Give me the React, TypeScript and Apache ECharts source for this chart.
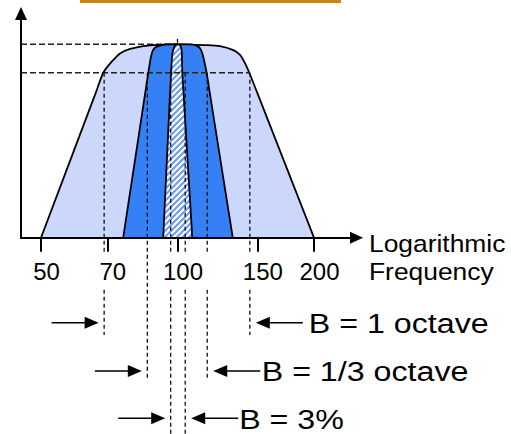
import React, { useEffect, useRef } from 'react';
import * as echarts from 'echarts';

// ---------- data ----------
const tickValues = [50, 70, 100, 150, 200];

// 1-octave filter shape (frequency, relative amplitude)
const octaveFreq = [50, 66.05, 68.6, 71.6, 74.7, 78.6, 84.1, 88.4, 100, 115, 124.1, 132.8, 137.4, 140.9, 144.0, 149.9, 200];
const octaveAmp = [0, 0.75, 0.853, 0.91, 0.953, 0.976, 0.991, 0.996, 1.0, 0.996, 0.991, 0.97, 0.945, 0.902, 0.853, 0.75, 0];

// 1/3-octave filter shape
const thirdFreq = [75.9, 84.9, 86.2, 87.4, 88.3, 90.0, 93.9, 100, 106.6, 111.2, 113.1, 114.4, 116.0, 117.8, 132.4];
const thirdAmp = [0, 0.75, 0.85, 0.936, 0.97, 0.988, 0.999, 1.0, 1.0, 0.988, 0.962, 0.919, 0.85, 0.75, 0];

// 3 % filter shape
const pctFreq = [93.0, 96.3, 96.8, 97.3, 98.0, 99.0, 100, 101.0, 101.8, 102.2, 102.5, 103.1, 107.8];
const pctAmp = [0, 0.75, 0.85, 0.94, 0.976, 0.995, 1.0, 0.998, 0.986, 0.96, 0.85, 0.75, 0];

// band edges (frequency) marked by dashed lines
const octaveEdges = [68.9, 144.4];
const thirdEdges = [85.8, 116.3];
const pctEdges = [96.6, 104.0];

const bandLabels = ['B = 1 octave', 'B = 1/3 octave', 'B = 3%'];
const peakFreq = 100;
const peakLevel = 1.0;
const halfPowerLevel = 0.853;
const axisTitleLines = ['Logarithmic', 'Frequency'];

// ---------- layout ----------
const W = 511;
const H = 434;
const FONT = '"Liberation Sans", Arial, Helvetica, sans-serif';
const X_MIN = 45.17;
const X_MAX = 248.2;
const Y_MAX = 1.1593;
const ROW_OFFSETS = [85, 133.3, 180.6];
const LINE_ENDS = [97.3, 142.3, 400];
const TEXT_OFFSETS = [59, 54.5, 54];

const zip = (a: number[], b: number[]) => a.map((v, i) => [v, b[i]]);

export default function App() {
  const ref = useRef<HTMLDivElement>(null);

  useEffect(() => {
    if (!ref.current) return;
    const chart = echarts.init(ref.current, undefined, { renderer: 'svg' });

    // hatch pattern
    const c = document.createElement('canvas');
    c.width = 6;
    c.height = 6;
    const ctx = c.getContext('2d');
    if (ctx) {
      ctx.fillStyle = '#ffffff';
      ctx.fillRect(0, 0, 6, 6);
      ctx.strokeStyle = '#6e9ff0';
      ctx.lineWidth = 2.2;
      ctx.beginPath();
      ctx.moveTo(0, 6);
      ctx.lineTo(6, 0);
      ctx.moveTo(-3, 3);
      ctx.lineTo(3, -3);
      ctx.moveTo(3, 9);
      ctx.lineTo(9, 3);
      ctx.stroke();
    }

    const dashV = { stroke: '#111', lineWidth: 1.3, lineDash: [4, 3] };
    const dashH = { stroke: '#222', lineWidth: 1.5, lineDash: [6, 3] };

    const bandData = [
      [octaveEdges[0], octaveEdges[1], 0],
      [thirdEdges[0], thirdEdges[1], 1],
      [pctEdges[0], pctEdges[1], 2],
    ];

    const renderBand = (params: any, api: any) => {
      const lo = api.value(0);
      const hi = api.value(1);
      const row = api.value(2);
      const pl = api.coord([lo, halfPowerLevel]);
      const pr = api.coord([hi, halfPowerLevel]);
      const xl = pl[0];
      const xr = pr[0];
      const yTop = pl[1];
      const axisY = api.coord([lo, 0])[1];
      const rowY = axisY + ROW_OFFSETS[row];
      const lineEnd = Math.min(H, axisY + LINE_ENDS[row]);
      const children: any[] = [];
      const seg = (x: number, y1: number, y2: number) => ({
        type: 'line',
        shape: { x1: x, y1, x2: x, y2 },
        style: dashV,
      });
      [xl, xr].forEach((x) => {
        const gap = tickValues.some((t) => Math.abs(api.coord([t, 0])[0] + 5.5 - x) < 30);
        if (gap) {
          children.push(seg(x, yTop, axisY + 14.5));
          children.push(seg(x, axisY + 52, lineEnd));
        } else {
          children.push(seg(x, yTop, lineEnd));
        }
      });
      // left arrow (pointing right)
      const tipL = xl - 5.5;
      children.push({
        type: 'line',
        shape: { x1: tipL - 47, y1: rowY, x2: tipL - 12, y2: rowY },
        style: { stroke: '#000', lineWidth: 1.5 },
      });
      children.push({
        type: 'polygon',
        shape: { points: [[tipL, rowY], [tipL - 14, rowY - 6], [tipL - 14, rowY + 6]] },
        style: { fill: '#000' },
      });
      // right arrow (pointing left)
      const tipR = xr + 6;
      children.push({
        type: 'line',
        shape: { x1: tipR + 12, y1: rowY, x2: xr + 53, y2: rowY },
        style: { stroke: '#000', lineWidth: 1.5 },
      });
      children.push({
        type: 'polygon',
        shape: { points: [[tipR, rowY], [tipR + 14, rowY - 6], [tipR + 14, rowY + 6]] },
        style: { fill: '#000' },
      });
      children.push({
        type: 'text',
        x: xr + TEXT_OFFSETS[row],
        y: rowY + 0.5,
        scaleX: 1.15,
        style: {
          text: bandLabels[row],
          fontSize: 28,
          fontFamily: FONT,
          fill: '#000',
          align: 'left',
          verticalAlign: 'middle',
        },
      });
      return { type: 'group', children };
    };

    const renderPeakLine = (params: any, api: any) => {
      const p = api.coord([api.value(0), api.value(1)]);
      const left = api.coord([X_MIN, api.value(1)]);
      return {
        type: 'group',
        children: [
          { type: 'line', shape: { x1: left[0], y1: p[1], x2: p[0], y2: p[1] }, style: dashH },
          { type: 'line', shape: { x1: p[0], y1: p[1] - 5.5, x2: p[0], y2: p[1] - 1 }, style: dashV },
        ],
      };
    };

    const renderHalfLine = (params: any, api: any) => {
      const p = api.coord([api.value(0), api.value(1)]);
      const left = api.coord([X_MIN, api.value(1)]);
      return {
        type: 'line',
        shape: { x1: left[0], y1: p[1], x2: p[0], y2: p[1] },
        style: dashH,
      };
    };

    const shapeSeries = (data: number[][], fill: any, z: number) => ({
      type: 'line',
      data,
      z,
      symbol: 'none',
      smooth: 0.25,
      silent: true,
      lineStyle: { color: '#000', width: 1.8 },
      areaStyle: { color: fill, opacity: 1 },
    });

    chart.setOption({
      animation: false,
      backgroundColor: '#ffffff',
      grid: {
        left: 21,
        right: W - 356.5,
        top: 13.5,
        bottom: H - 237.7,
        containLabel: false,
        outerBoundsMode: 'none',
      },
      xAxis: {
        type: 'log',
        min: X_MIN,
        max: X_MAX,
        z: 6,
        axisLine: {
          show: true,
          lineStyle: { color: '#000', width: 2 },
          symbol: ['none', 'triangle'],
          symbolSize: [12, 13],
        },
        axisTick: {
          show: true,
          customValues: tickValues,
          length: 14,
          lineStyle: { color: '#000', width: 2 },
        },
        axisLabel: {
          show: true,
          customValues: tickValues,
          margin: 22,
          fontSize: 24,
          fontFamily: FONT,
          color: '#000',
          padding: [0, 0, 0, 11],
        },
        splitLine: { show: false },
        minorTick: { show: false },
        minorSplitLine: { show: false },
      },
      yAxis: {
        type: 'value',
        min: 0,
        max: Y_MAX,
        z: 6,
        axisLine: {
          show: true,
          lineStyle: { color: '#000', width: 2 },
          symbol: ['none', 'triangle'],
          symbolSize: [12, 13],
        },
        axisTick: { show: false },
        axisLabel: { show: false },
        splitLine: { show: false },
      },
      graphic: [
        { type: 'rect', shape: { x: 80, y: 0, width: 261, height: 3 }, style: { fill: '#c8861a' } },
        {
          type: 'text',
          x: 369,
          y: 243.5,
          scaleX: 1.1,
          style: { text: axisTitleLines[0], fontSize: 24, fontFamily: FONT, fill: '#000', align: 'left', verticalAlign: 'middle' },
        },
        {
          type: 'text',
          x: 369,
          y: 271.7,
          scaleX: 1.1,
          style: { text: axisTitleLines[1], fontSize: 24, fontFamily: FONT, fill: '#000', align: 'left', verticalAlign: 'middle' },
        },
      ],
      series: [
        {
          type: 'custom',
          coordinateSystem: 'cartesian2d',
          data: [[peakFreq, peakLevel]],
          renderItem: renderPeakLine,
          z: 1,
          clip: false,
          silent: true,
        },
        shapeSeries(zip(octaveFreq, octaveAmp), '#cbd8fb', 2),
        shapeSeries(zip(thirdFreq, thirdAmp), '#3680f6', 3),
        shapeSeries(zip(pctFreq, pctAmp), { image: c, repeat: 'repeat' }, 4),
        {
          type: 'custom',
          coordinateSystem: 'cartesian2d',
          data: [[octaveEdges[1], halfPowerLevel]],
          renderItem: renderHalfLine,
          z: 5,
          clip: false,
          silent: true,
        },
        {
          type: 'custom',
          coordinateSystem: 'cartesian2d',
          data: bandData,
          encode: { x: [0, 1], y: 2 },
          renderItem: renderBand,
          z: 5,
          clip: false,
          silent: true,
        },
      ],
    });

    return () => chart.dispose();
  }, []);

  return (
    <div
      ref={ref}
      style={{ position: 'fixed', left: 0, top: 0, width: W, height: H, background: '#fff' }}
    />
  );
}
